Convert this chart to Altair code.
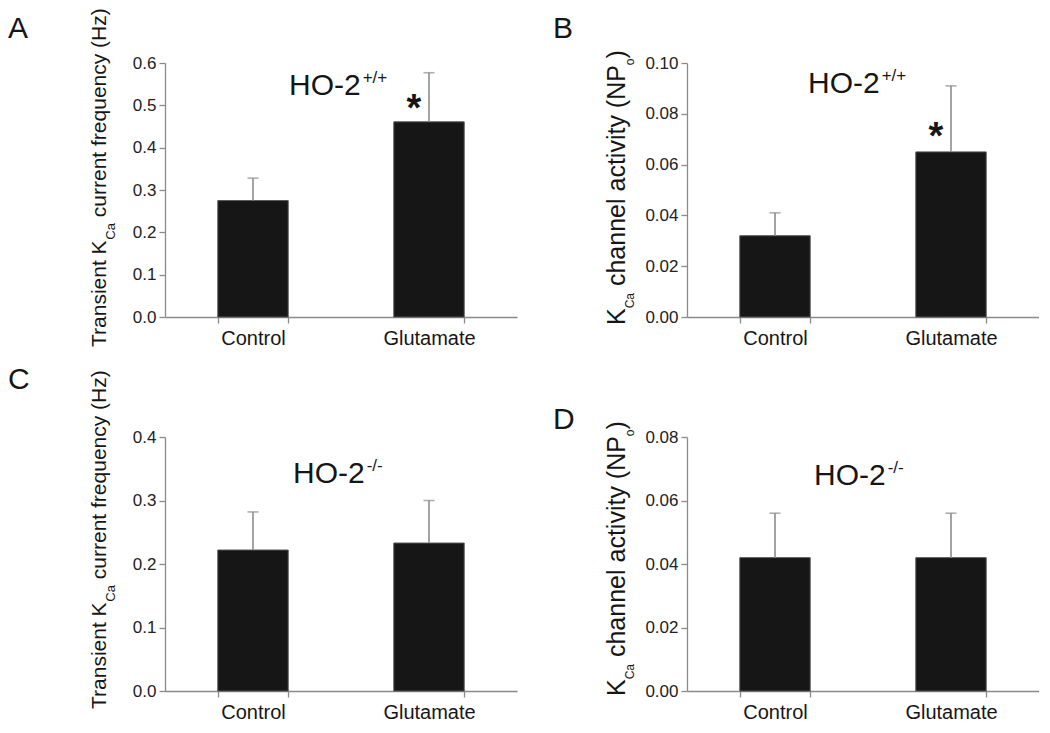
import altair as alt
import pandas as pd

# ---------------- data ----------------
categories = ["Control", "Glutamate"]

a_mean = [0.275, 0.461]
a_sem = [0.053, 0.116]
b_mean = [0.032, 0.065]
b_sem = [0.009, 0.026]
c_mean = [0.222, 0.233]
c_sem = [0.060, 0.067]
d_mean = [0.042, 0.042]
d_sem = [0.014, 0.014]

a_ticks = [0.0, 0.1, 0.2, 0.3, 0.4, 0.5, 0.6]
b_ticks = [0.00, 0.02, 0.04, 0.06, 0.08, 0.10]
c_ticks = [0.0, 0.1, 0.2, 0.3, 0.4]
d_ticks = [0.00, 0.02, 0.04, 0.06, 0.08]

a_star = 0.51
b_star = 0.074

FONT = "Liberation Sans"
AX = "#8a8a8a"
INK = "#161616"

W, H = 352, 254

# Arial / Liberation Sans advance widths (1/1000 em) for text placement
ADV = {" ": 278, "(": 333, ")": 333, "-": 333, "/": 278, "+": 584, "2": 556,
       "A": 667, "B": 667, "C": 722, "D": 722, "H": 722, "K": 667, "N": 722,
       "O": 778, "P": 667, "T": 611, "a": 556, "c": 500, "e": 556, "f": 278,
       "h": 556, "i": 222, "l": 222, "n": 556, "o": 556, "q": 556, "r": 333,
       "s": 500, "t": 278, "u": 556, "v": 500, "y": 500, "z": 500}


def tw(s, size):
    return sum(ADV[ch] for ch in s) * size / 1000.0


def txt(s, x, y, size, angle=0, align="left", weight="normal"):
    kw = dict(text=s, font=FONT, fontSize=size, color=INK, align=align,
              baseline="alphabetic", fontWeight=weight)
    if angle:
        kw["angle"] = angle
    return alt.Chart(pd.DataFrame({"k": [0]})).mark_text(**kw).encode(
        x=alt.value(x), y=alt.value(y))


def panel(mean, sem, ymax, ticks, fmt, star, letter, title_pieces, geno, lay):
    df = pd.DataFrame({"cond": categories, "mean": mean,
                       "upper": [m + s for m, s in zip(mean, sem)]})
    xenc = alt.X("cond:N", sort=categories, title=None,
                 scale=alt.Scale(paddingInner=0.6, paddingOuter=0.3),
                 axis=alt.Axis(labelAngle=0, labelFontSize=20, labelColor=INK,
                               labelFont=FONT, tickBand="extent", tickSize=6,
                               labelPadding=5, domainColor=AX, tickColor=AX,
                               domainWidth=1.3, tickWidth=1.3, grid=False))
    yenc = alt.Y("mean:Q", title=None,
                 scale=alt.Scale(domain=[0, ymax], nice=False, zero=True),
                 axis=alt.Axis(values=ticks, format=fmt, grid=False,
                               labelFontSize=17, labelColor="#222222",
                               labelFont=FONT, tickSize=6, labelPadding=3,
                               domainColor=AX, tickColor=AX, domainWidth=1.3,
                               tickWidth=1.3))
    base = alt.Chart(df)
    bars = base.mark_bar(color=INK, stroke="#555555", strokeWidth=1).encode(
        x=xenc, y=yenc)
    err = base.mark_rule(color="#8c8c8c", strokeWidth=1.6).encode(
        x=alt.X("cond:N", sort=categories), y="mean:Q", y2="upper:Q")
    cap = base.mark_tick(color="#8c8c8c", thickness=1.6, size=11).encode(
        x=alt.X("cond:N", sort=categories), y="upper:Q")
    layers = [bars, err, cap]

    if star is not None:
        sdf = pd.DataFrame({"cond": [categories[1]], "star": [star]})
        layers.append(alt.Chart(sdf).mark_text(
            text="*", font=FONT, fontSize=38, fontWeight="bold", color=INK,
            align="center", baseline="alphabetic", dx=-15, dy=20).encode(
            x=alt.X("cond:N", sort=categories), y="star:Q"))

    # panel letter
    lx, ly = lay["letter"]
    layers.append(txt(letter, lx, ly, 30))

    # rotated y title built from main text and subscripts
    ypos = lay["yt_bottom"]
    mx = lay["yt_x"]
    for s, is_sub in title_pieces:
        size = lay["sub_size"] if is_sub else lay["main_size"]
        x = mx + 9 if is_sub else mx
        body = s.lstrip(" ")
        ypos -= tw(s[: len(s) - len(body)], size)   # leading space as offset
        layers.append(txt(body, x, ypos, size, angle=270))
        ypos -= tw(body, size)

    # genotype label with superscript
    gx, gy = lay["title"]
    layers.append(txt("HO-2", gx, gy, 30))
    layers.append(txt(geno, gx + tw("HO-2", 30) + 2, gy - 12, 17))

    return alt.layer(*layers).properties(width=W, height=H)


freq_title = [("Transient K", False), ("Ca", True),
              (" current frequency (Hz)", False)]
kca_title = [("K", False), ("Ca", True), (" channel activity (NP", False),
             ("o", True), (")", False)]

pA = panel(a_mean, a_sem, 0.6, a_ticks, ".1f", a_star, "A", freq_title, "+/+",
           dict(letter=(-157, -25), yt_x=-59, yt_bottom=284, main_size=21,
                sub_size=13, title=(124, 32)))
pB = panel(b_mean, b_sem, 0.10, b_ticks, ".2f", b_star, "B", kca_title, "+/+",
           dict(letter=(-134, -25), yt_x=-62, yt_bottom=262, main_size=25,
                sub_size=12, title=(121, 30)))
pC = panel(c_mean, c_sem, 0.4, c_ticks, ".1f", None, "C", freq_title, "-/-",
           dict(letter=(-157, -48), yt_x=-59, yt_bottom=272, main_size=21,
                sub_size=13, title=(128, 46)))
pD = panel(d_mean, d_sem, 0.08, d_ticks, ".2f", None, "D", kca_title, "-/-",
           dict(letter=(-134, -8), yt_x=-62, yt_bottom=259, main_size=25,
                sub_size=12, title=(127, 48)))

chart = alt.concat(pA, pB, pC, pD, columns=2,
                   spacing={"row": 120, "column": 170},
                   bounds="flush").properties(
    padding=0, background="white"
).configure(font=FONT).configure_view(strokeWidth=0, stroke="transparent")

chart.save("out.html", embed_options={"renderer": "svg", "actions": False})
